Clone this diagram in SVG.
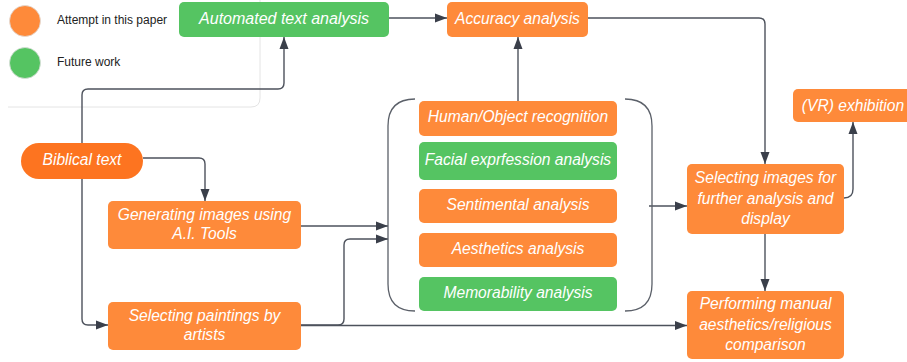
<svg xmlns="http://www.w3.org/2000/svg" width="907" height="362" viewBox="0 0 907 362">
<defs>
<marker id="arr" markerUnits="userSpaceOnUse" markerWidth="12" markerHeight="10" refX="12" refY="5" orient="auto">
<path d="M0,0.5 L12,5 L0,9.5 z" fill="#3a3f4a"/>
</marker>
<style>
.or{fill:#FE8A3A}
.gr{fill:#55C462}
.bt{fill:#FD7420}
.t{font-family:"Liberation Sans",Arial,sans-serif;font-style:italic;font-size:15.6px;fill:#fff;text-anchor:middle}
.lg{font-family:"Liberation Sans",Arial,sans-serif;font-size:12px;fill:#222}
.c{fill:none;stroke:#4d525c;stroke-width:1.4}
.f{fill:none;stroke:#e4e4e4;stroke-width:1}
.br{fill:none;stroke:#5b6069;stroke-width:1.3}
</style>
</defs>
<rect width="907" height="362" fill="#fff"/>
<path class="f" d="M260,0 V98 Q260,107 251,107 H8"/>
<g id="legend">
<circle cx="25" cy="21" r="15.5" fill="#FE8A3A" stroke="#ddd" stroke-width="0.8"/>
<circle cx="25" cy="63" r="15.5" fill="#55C462" stroke="#ddd" stroke-width="0.8"/>
<text class="lg" x="57" y="23.5">Attempt in this paper</text>
<text class="lg" x="57" y="66">Future work</text>
</g>
<g id="connectors">
<path class="c" d="M389,18 H447" marker-end="url(#arr)"/>
<path class="c" d="M588,18 H759 Q765,18 765,24 V164" marker-end="url(#arr)"/>
<path class="c" d="M518,101 V37" marker-end="url(#arr)"/>
<path class="c" d="M82,143 V95 Q82,89 88,89 H278 Q284,89 284,83 V37" marker-end="url(#arr)"/>
<path class="c" d="M82,179 V319 Q82,325 88,325 H108" marker-end="url(#arr)"/>
<path class="c" d="M143,158 H199 Q205,158 205,164 V201" marker-end="url(#arr)"/>
<path class="c" d="M301,226 H388" marker-end="url(#arr)"/>
<path class="c" d="M301,325 H338 Q344,325 344,319 V245 Q344,239 350,239 H388" marker-end="url(#arr)"/>
<path class="c" d="M301,325.5 H687" marker-end="url(#arr)"/>
<path class="c" d="M649,206 H687" marker-end="url(#arr)"/>
<path class="c" d="M765,234 V291" marker-end="url(#arr)"/>
<path class="c" d="M844,198 Q853,198 853,189 V122" marker-end="url(#arr)"/>
</g>
<g id="bracket">
<path class="br" d="M415,99 Q388,99 388,126 V284 Q388,311 415,311"/>
<path class="br" d="M625,99 Q652,99 652,126 V284 Q652,311 625,311"/>
</g>
<g id="automated"><rect class="gr" x="179" y="2" width="210" height="35" rx="5"/><text class="t" x="284" y="23.5" style="font-size:16px">Automated text analysis</text></g>
<g id="accuracy"><rect class="or" x="447" y="2" width="141" height="35" rx="5"/><text class="t" x="517.5" y="23.5">Accuracy analysis</text></g>
<g id="biblical"><rect class="bt" x="21" y="143" width="122" height="36" rx="18"/><text class="t" x="82" y="164.5">Biblical text</text></g>
<g id="generating"><rect class="or" x="108" y="201" width="193" height="48" rx="5"/><text class="t" x="204.5" y="219.5">Generating images using</text><text class="t" x="204.5" y="238.5">A.I. Tools</text></g>
<g id="paintings"><rect class="or" x="108" y="302" width="193" height="48" rx="5"/><text class="t" x="204.5" y="320.5">Selecting paintings by</text><text class="t" x="204.5" y="339.5">artists</text></g>
<g id="human"><rect class="or" x="419" y="101" width="198" height="35" rx="5"/><text class="t" x="518" y="122">Human/Object recognition</text></g>
<g id="facial"><rect class="gr" x="419" y="142" width="198" height="38" rx="5"/><text class="t" x="518" y="165">Facial exprfession analysis</text></g>
<g id="sentimental"><rect class="or" x="419" y="189" width="198" height="34" rx="5"/><text class="t" x="518" y="209.5">Sentimental analysis</text></g>
<g id="aesthetics"><rect class="or" x="419" y="233" width="198" height="34" rx="5"/><text class="t" x="518" y="253.5">Aesthetics analysis</text></g>
<g id="memorability"><rect class="gr" x="419" y="277" width="198" height="34" rx="5"/><text class="t" x="518" y="297.5">Memorability analysis</text></g>
<g id="selecting"><rect class="or" x="687" y="164" width="157" height="70" rx="5"/><text class="t" x="765.5" y="183">Selecting images for</text><text class="t" x="765.5" y="203.5">further analysis and</text><text class="t" x="765.5" y="224">display</text></g>
<g id="vr"><rect class="or" x="793" y="89" width="125" height="33" rx="5"/><text class="t" x="853" y="111">(VR) exhibition</text></g>
<g id="manual"><rect class="or" x="687" y="291" width="157" height="68" rx="5"/><text class="t" x="765.5" y="309">Performing manual</text><text class="t" x="765.5" y="329.5">aesthetics/religious</text><text class="t" x="765.5" y="350">comparison</text></g>
</svg>
